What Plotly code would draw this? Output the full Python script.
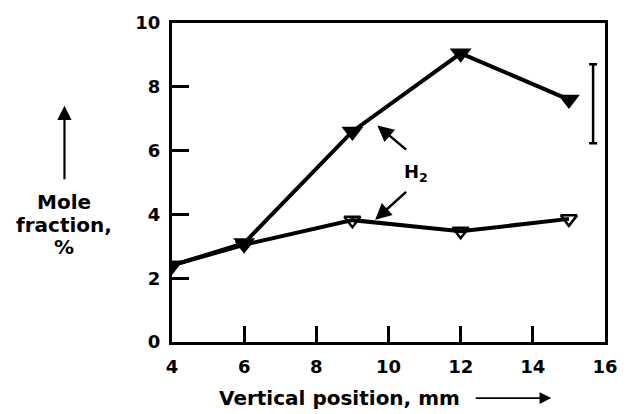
import plotly.graph_objects as go

x_pos = [4, 6, 9, 12, 15]
filled_vals = [2.4, 3.1, 6.6, 9.05, 7.6]
open_vals = [2.4, 3.05, 3.82, 3.47, 3.86]
err_x = [15.67]
err_center = [7.47]
err_half = [1.24]
x_ticks = [4, 6, 8, 10, 12, 14, 16]
y_ticks = [0, 2, 4, 6, 8, 10]
y_title_lines = ["Mole", "fraction,", "%"]

FONT = "DejaVu Sans"
TF = dict(family=FONT, size=18, color="black", weight="bold")
BF = dict(family=FONT, size=20, color="black", weight="bold")

W, H = 630, 414
L, R, T, B = 172, 615, 18, 342
PW, PH = R - L, B - T


def px(xp):
    return (xp - L) / PW


def py(yp):
    return (B - yp) / PH


fig = go.Figure()
fig.add_trace(go.Scatter(
    x=x_pos, y=open_vals, mode="lines+markers",
    line=dict(color="black", width=4),
    marker=dict(symbol="triangle-down-open", size=14, color="black",
                line=dict(width=2.5, color="black")),
    showlegend=False))
fig.add_trace(go.Scatter(
    x=x_pos, y=filled_vals, mode="lines+markers",
    line=dict(color="black", width=4),
    marker=dict(symbol="triangle-down", size=19, color="black"),
    showlegend=False))
fig.add_trace(go.Scatter(
    x=err_x, y=err_center, mode="markers",
    marker=dict(size=1, color="rgba(0,0,0,0)"),
    error_y=dict(type="data", array=err_half, color="black", thickness=2.5, width=4),
    showlegend=False))

fig.update_xaxes(range=[4, 16], tickvals=x_ticks, ticks="inside", ticklen=16,
                 tickwidth=2.5, tickcolor="black", showline=True, linewidth=3,
                 linecolor="black", mirror=True, showgrid=False, zeroline=False,
                 tickfont=TF, ticklabelstandoff=6, ticklabeloverflow="allow")
fig.update_yaxes(range=[0, 10], tickvals=y_ticks, ticks="inside", ticklen=17,
                 tickwidth=2.5, tickcolor="black", showline=True, linewidth=3,
                 linecolor="black", mirror=True, showgrid=False, zeroline=False,
                 tickfont=TF, ticklabelstandoff=5, ticklabeloverflow="allow")

annots = [
    dict(x=10.77, y=5.3, xref="x", yref="y", text="H<sub>2</sub>",
         showarrow=False, font=TF),
    dict(x=9.69, y=6.79, ax=10.53, ay=5.99, xref="x", yref="y", axref="x", ayref="y",
         text="", showarrow=True, arrowhead=2, arrowsize=1.3, arrowwidth=2.5, arrowcolor="black"),
    dict(x=9.63, y=3.83, ax=10.53, ay=4.75, xref="x", yref="y", axref="x", ayref="y",
         text="", showarrow=True, arrowhead=2, arrowsize=1.3, arrowwidth=2.5, arrowcolor="black"),
    # upward arrow above y title
    dict(x=px(62), y=py(102), ax=0, ay=75, xref="paper", yref="paper",
         text="", showarrow=True, arrowhead=2, arrowsize=1.3, arrowwidth=2.2,
         arrowcolor="black"),
    # x-axis title
    dict(x=px(343), y=py(399), xref="paper", yref="paper",
         text="Vertical position, mm", showarrow=False,
         xanchor="center", yanchor="middle", font=BF),
    dict(x=px(560), y=py(399), ax=-77, ay=0,
         xref="paper", yref="paper", text="", showarrow=True, arrowhead=2,
         arrowsize=1.3, arrowwidth=1.8, arrowcolor="black"),
]
for line_text, yp in zip(y_title_lines, [200, 223, 246]):
    annots.append(dict(x=px(62), y=py(yp), xref="paper", yref="paper",
                       text=line_text, showarrow=False,
                       xanchor="center", yanchor="middle", font=BF))

fig.update_layout(width=W, height=H,
                  margin=dict(l=L, r=W - R, t=T, b=H - B),
                  plot_bgcolor="white", paper_bgcolor="white", annotations=annots)
fig.write_html("out.html", config={"displayModeBar": False},
               post_script="document.body.style.margin='0';"
                           "document.body.style.overflow='hidden';")
